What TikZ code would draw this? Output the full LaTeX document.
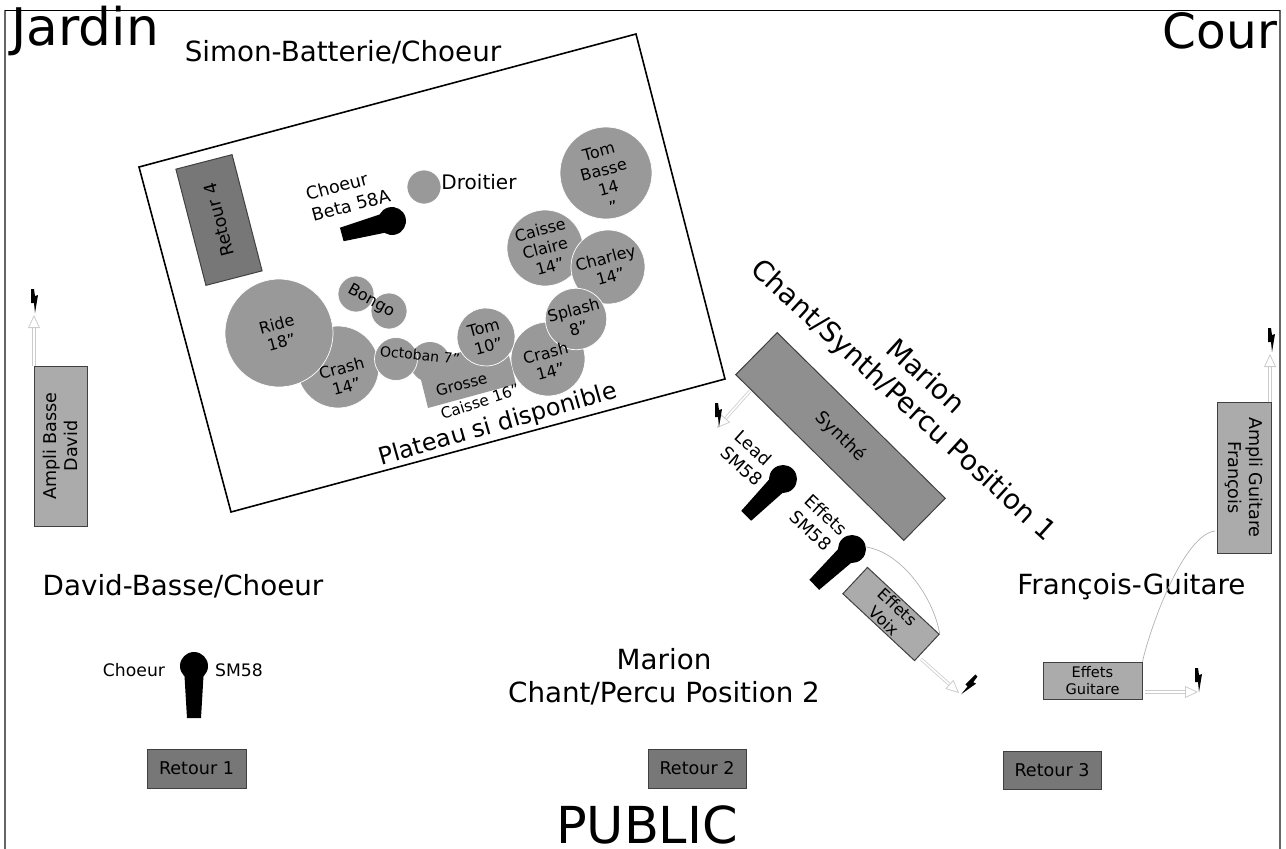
\documentclass[tikz,border=0pt]{standalone}
\usepackage{fontspec}
\setmainfont{DejaVu Sans}
\usetikzlibrary{arrows.meta}
\newlength{\px}
\setlength{\px}{0.02cm}
\definecolor{tomgris}{HTML}{999999}
\definecolor{ampligris}{HTML}{ABABAB}
\definecolor{retourgris}{HTML}{777777}
\definecolor{synthgris}{HTML}{8F8F8F}
\tikzset{
  futs/.style={circle,fill=tomgris,draw=white,line width=0.7\px,inner sep=0pt,align=center,font=\fontsize{9.1}{10.8}\selectfont},
  etiquette/.style={inner sep=0pt,align=center,font=\fontsize{9.1}{10.8}\selectfont},
  boite/.style={fill=ampligris,draw=black!75,line width=1\px,inner sep=0pt,align=center,font=\fontsize{10}{12.3}\selectfont},
  retour/.style={boite,fill=retourgris},
  grand/.style={inner sep=0pt,align=center,font=\fontsize{15.8}{18.7}\selectfont},
  titre/.style={inner sep=0pt,font=\fontsize{29}{30}\selectfont},
  petit/.style={inner sep=0pt,align=left,font=\fontsize{10}{12.5}\selectfont},
  cable/.style={draw=black!30,line width=0.7\px},
  prise/.style={draw=black!20,double=white,double distance=1.6\px,line width=0.8\px,
    -{Triangle[open,fill=white,length=0.26cm,width=0.24cm]}},
  micro/.pic={
    \fill[black] (0,0) circle (14);
    \fill[black] (-9.5,10) -- (-7,52) -- (7,52) -- (9.5,10) -- cycle;
  },
  eclair/.pic={
    \fill[black] (-3,-12) -- (0,-12) -- (1,-5) -- (4,-6) -- (1,12) -- (0,2) -- (-3,2) -- cycle;
  },
}
\begin{document}
\begin{tikzpicture}[x=1\px,y=-1\px]
  \useasboundingbox (0,0) rectangle (1286,849);
  % cadre
  \draw[black!60,line width=1.2\px] (5,849) -- (5,10);
  \draw[black!60,line width=1.2\px] (1280,849) -- (1280,10);
  \draw[black,line width=1\px] (5,10) -- (1280,10);
  \node[titre,font=\fontsize{29.5}{30}\selectfont] (jardin) at (85,31) {Jardin};
  \node[titre,font=\fontsize{27.6}{30}\selectfont] (cour) at (1220,31) {Cour};
  \node[titre] (public) at (647,825) {PUBLIC};

  % plateau batterie
  \draw[black,line width=1.6\px] (139,167) -- (636,34) -- (725,379) -- (231,512) -- cycle;
  \node[grand] (simon) at (343,52) {Simon-Batterie/Choeur};
  \node[grand,rotate=16,font=\fontsize{13.6}{16}\selectfont] (plateau) at (498,425) {Plateau si disponible};
  \node[retour,rotate=104.5,minimum width=120\px,minimum height=58\px] (retour4) at (219,220) {Retour 4};
  \pic[rotate=-75] at (392,221) {micro};
  \node[petit,rotate=15] (choeurBeta) at (348,194.5) {Choeur\\Beta 58A};
  \node[futs,minimum size=34\px] (droitier) at (424,187) {};
  \node[inner sep=0pt,font=\fontsize{11.4}{13}\selectfont] (droitierTxt) at (479,182) {Droitier};
  \node[futs,minimum size=92\px] (tomBasse) at (606,173) {};
  \node[etiquette,rotate=15] (tomBasseTxt) at (606,179) {Tom\\Basse\\14\\"};
  \node[futs,minimum size=76\px,rotate=15] (caisseClaire) at (545,248) {Caisse\\Claire\\14"};
  \node[futs,minimum size=74\px,rotate=15] (charley) at (608,267) {Charley\\14"};
  \node[futs,minimum size=74\px] (crashD) at (548,359) {};
  \node[futs,minimum size=58\px,rotate=15] (splash) at (576,319) {Splash\\8"};
  \node[etiquette,rotate=15] (crashDTxt) at (548,362) {Crash\\14"};
  \node[futs,minimum size=36\px] (bongoA) at (356,294) {};
  \node[futs,minimum size=36\px] (bongoB) at (389,311) {};
  \node[etiquette,rotate=-29] (bongo) at (371,301) {Bongo};
  \node[futs,minimum size=82\px] (crashG) at (338,367) {};
  \node[futs,minimum size=108\px,rotate=15] (ride) at (279,333) {Ride\\18"};
  \node[etiquette,rotate=15] (crashGTxt) at (344,377) {Crash\\14"};
  \node[futs,draw=none,minimum size=40\px] (octobanB) at (430,362) {};
  \fill[tomgris] (428,408) -- (516,384) -- (505,340) -- (417,364) -- cycle;
  \node[futs,minimum size=43\px] (octobanA) at (396,359) {};
  \node[inner sep=0pt,rotate=-6,font=\fontsize{8}{9.6}\selectfont] (octoban) at (420,355) {Octoban 7"};
  \node[inner sep=0pt,rotate=15,font=\fontsize{8.7}{10}\selectfont] (grosse) at (461.5,384) {Grosse};
  \node[inner sep=0pt,rotate=18,font=\fontsize{8.7}{10}\selectfont] (caisse) at (480,401.5) {Caisse 16"};
  \node[futs,minimum size=58\px,rotate=15] (tom) at (486,337) {Tom\\10"};

  % Marion
  \node[grand,rotate=-42.5] (marion) at (913.5,389.5) {Marion\\Chant/Synth/Percu Position 1};
  \node[boite,fill=synthgris,rotate=-44.6,minimum width=236\px,minimum height=59\px] (synthe) at (840.5,436.5) {Synthé};
  \pic[rotate=-45] at (783,479) {micro};
  \node[petit,rotate=-42] (lead) at (749,458) {Lead\\SM58};
  \pic[rotate=-46.5] at (852,549) {micro};
  \coordinate (microEffets) at (866,547);
  \node[petit,rotate=-43] (effets) at (819,523) {Effets\\SM58};
  \node[boite,rotate=-43,minimum width=98\px,minimum height=36\px,font=\fontsize{9.2}{11}\selectfont] (effetsVoix) at (891,614) {Effets\\Voix};
  \draw[cable] (microEffets) .. controls (900,552) and (933,595) .. (effetsVoix.north east);
  \node[grand] (marion2) at (664,677) {Marion\\Chant/Percu Position 2};

  % David
  \node[boite,rotate=90,minimum width=160\px,minimum height=53\px] (ampliBasse) at (60.5,446) {Ampli Basse\\David};
  \node[grand] (david) at (183,586) {David-Basse/Choeur};
  \pic at (194,666) {micro};
  \node[petit,font=\fontsize{9.8}{11}\selectfont] (choeurD) at (134,670) {Choeur};
  \node[petit,font=\fontsize{9.8}{11}\selectfont] (sm58D) at (239,670) {SM58};
  \node[retour,minimum width=99\px,minimum height=39\px] (retour1) at (196.5,768.5) {Retour 1};

  \node[retour,minimum width=98\px,minimum height=39\px] (retour2) at (697,768.5) {Retour 2};
  \node[retour,minimum width=98\px,minimum height=38\px] (retour3) at (1052,770) {Retour 3};

  % Francois
  \node[boite,rotate=-90,minimum width=151\px,minimum height=54\px] (ampliGuitare) at (1244,477.5) {Ampli Guitare\\François};
  \node[grand] (francois) at (1131.5,587) {François-Guitare};
  \node[boite,minimum width=99\px,minimum height=37\px,font=\fontsize{8.3}{9.8}\selectfont] (effetsGuitare) at (1092.5,680.5) {Effets\\Guitare};
  \coordinate (entreeAmpli) at (1215,531);
  \draw[cable] (effetsGuitare.north east) .. controls (1150,628) and (1183,535) .. (entreeAmpli);

  % prises
  \coordinate (priseBasse) at (34,315);
  \coordinate (departBasse) at (34,366);
  \coordinate (priseGuitare) at (1270,354);
  \coordinate (departGuitare) at (1270,402);
  \coordinate (priseEffets) at (1198,692);
  \coordinate (departEffets) at (1145,692);
  \coordinate (priseSynth) at (717,428);
  \coordinate (departSynth) at (750,391);
  \coordinate (priseVoix) at (959,693);
  \coordinate (departVoix) at (921,659);
  \draw[prise] (departBasse) -- (priseBasse);
  \draw[prise] (departGuitare) -- (priseGuitare);
  \draw[prise] (departEffets) -- (priseEffets);
  \draw[prise] (departSynth) -- (priseSynth);
  \draw[prise] (departVoix) -- (priseVoix);
  \pic at (34,301) {eclair};
  \pic at (1271,340) {eclair};
  \pic at (1198,680) {eclair};
  \pic at (718,415) {eclair};
  \pic[rotate=-45] at (969,685) {eclair};
\end{tikzpicture}
\end{document}
